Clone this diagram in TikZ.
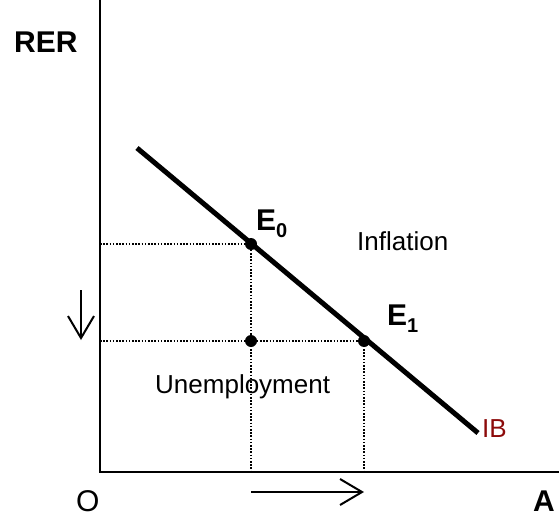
\documentclass[tikz,border=0pt]{standalone}
\usepackage{fontspec}
\setmainfont{Liberation Sans}
\usetikzlibrary{positioning,arrows.meta}
\definecolor{ibred}{RGB}{140,10,10}
\newcommand{\eqsub}[1]{\raisebox{-7pt}{\fontsize{20}{20}\selectfont #1}}

\begin{document}
\begin{tikzpicture}[x=1pt, y=-1pt,
  axis/.style={line width=2pt},
  curve/.style={line width=5pt},
  guide/.style={line width=1.7pt, dash pattern=on 1.6pt off 1.6pt},
  dot/.style={circle, fill, inner sep=0pt, minimum size=12pt},
  lbl/.style={font=\fontsize{26}{30}\selectfont, inner sep=0pt, anchor=base west},
  blbl/.style={lbl, font=\fontsize{30}{34}\selectfont\bfseries},
  arr/.style={-{Straight Barb[length=22pt, width=26pt]}, line width=2pt}]
\useasboundingbox (0,0) rectangle (559,516);
% axes
\coordinate (origin) at (100,472);
\coordinate (ytop) at (100,0);
\coordinate (xend) at (559,472);
\draw[axis] (ytop) -- (origin) -- (xend);
% IB line
\coordinate (ib0) at (137,148);
\coordinate (ib1) at (478,433);
\draw[curve] (ib0) -- (ib1);
% points
\node[dot] (e0) at (251,244) {};
\node[dot] (e1) at (364,341) {};
\node[dot] (mid) at (251,341) {};
\coordinate (y0) at (100,244);
\coordinate (y1) at (100,341);
\draw[guide] (y0) -- (e0.center) -- (e0.center |- origin);
\draw[guide] (y1) -- (e1.center) -- (e1.center |- origin);
% shifts
\coordinate (dn0) at (81,290);
\coordinate (dn1) at (81,340);
\draw[arr] (dn0) -- (dn1);
\coordinate (rt0) at (251,492);
\coordinate (rt1) at (364,492);
\draw[arr] (rt0) -- (rt1);
% labels
\node[blbl] (rer) at (14,53) {RER};
\node[lbl, font=\fontsize{30}{34}\selectfont] (o) at (76,511) {O};
\node[blbl] (a) at (533,511) {A};
\node[blbl] (e0lbl) at (256,230) {E\eqsub{0}};
\node[blbl] (e1lbl) at (387,325) {E\eqsub{1}};
\node[lbl] (infl) at (357,250) {Inflation};
\node[lbl] (unemp) at (155,393) {Unemployment};
\node[lbl, text=ibred] (ib) at (482,437) {IB};
\end{tikzpicture}
\end{document}
